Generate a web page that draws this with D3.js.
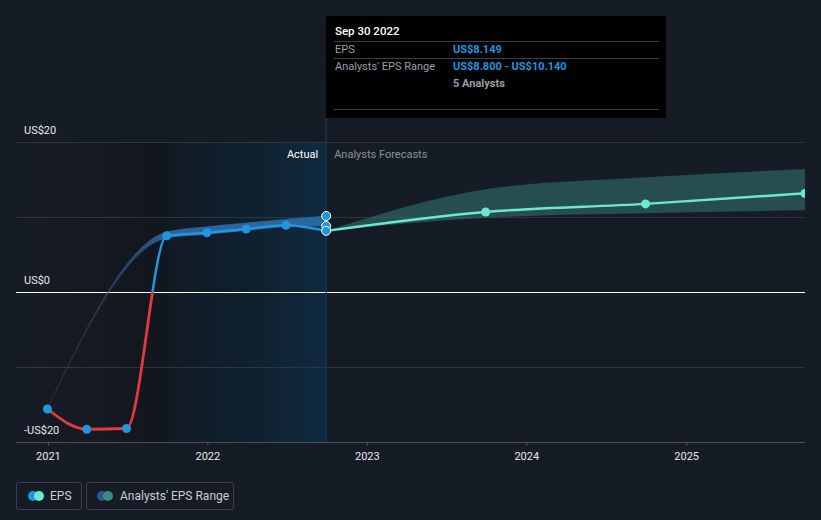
<!DOCTYPE html>
<html><head><meta charset="utf-8">
<script src="https://cdn.jsdelivr.net/npm/d3@7"></script>
<style>
html,body{margin:0;padding:0;background:#161c26;}
svg{display:block;font-family:Roboto,"Noto Sans",sans-serif;}
</style></head>
<body><svg id="c" width="821" height="520"></svg>
<script>
// ---- data ----
const actualDates = ["2020-12-31","2021-03-31","2021-06-30","2021-09-30","2021-12-31","2022-03-31","2022-06-30","2022-09-30"];
const actualEPS = [-15.6, -18.3, -18.2, 7.5, 7.9, 8.4, 8.9, 8.149];
const rangeDates = ["2020-12-31","2021-09-30","2021-12-31","2022-03-31","2022-06-30","2022-09-30"];
const rangeLow = [-15.6, 7.2, 7.7, 8.2, 8.7, 8.8];
const rangeHigh = [-15.4, 8.0, 8.7, 9.2, 9.7, 10.14];
const fcDates = ["2022-09-30","2023-09-30","2024-09-30","2025-09-30"];
const fcEPS = [8.149, 10.67, 11.75, 13.15];
const fcLow = [8.149, 9.9, 10.5, 10.9];
const fcHigh = [8.149, 13.7, 15.3, 16.4];
const yTicks = [20, 0, -20];
const yTickLabels = ["US$20", "US$0", "-US$20"];
const gridValues = [20, 10, -10];
const xTickYears = [2021, 2022, 2023, 2024, 2025];

const P = d3.timeParse("%Y-%m-%d");
const svg = d3.select("#c");
const x = d3.scaleTime().domain([new Date(2020, 9, 20), new Date(2025, 8, 30)]).range([16, 805]);
const y = d3.scaleLinear().domain([-20, 20]).range([442, 142]);

const defs = svg.append("defs");
function lg(id, stops) {
  const g = defs.append("linearGradient").attr("id", id).attr("x1", 0).attr("x2", 1).attr("y1", 0).attr("y2", 0);
  stops.forEach(s => g.append("stop").attr("offset", s[0]).attr("stop-color", s[1]).attr("stop-opacity", s[2] == null ? 1 : s[2]));
}
lg("gPast", [[0, "#161c26"], [1, "#12161e"]]);
lg("gAct", [[0, "#111a24"], [0.5, "#10202f"], [1, "#0f2a40"]]);
const xStart = x(P(actualDates[0])), xSep21 = x(P("2021-09-30")), xNow = x(P("2022-09-30"));
const bg = defs.append("linearGradient").attr("id", "gBand").attr("gradientUnits", "userSpaceOnUse")
  .attr("x1", xStart).attr("x2", xSep21).attr("y1", 0).attr("y2", 0);
bg.append("stop").attr("offset", 0).attr("stop-color", "#6a2a30").attr("stop-opacity", 0.3);
bg.append("stop").attr("offset", 0.45).attr("stop-color", "#3a4a70").attr("stop-opacity", 0.5);
bg.append("stop").attr("offset", 1).attr("stop-color", "#2a6aa3").attr("stop-opacity", 0.95);

defs.append("clipPath").attr("id", "plot").append("rect").attr("x", 16).attr("y", 100).attr("width", 789).attr("height", 350);
defs.append("clipPath").attr("id", "pos").append("rect").attr("x", 0).attr("y", 0).attr("width", 821).attr("height", y(0));
defs.append("clipPath").attr("id", "neg").append("rect").attr("x", 0).attr("y", y(0)).attr("width", 821).attr("height", 200);

// background regions
svg.append("rect").attr("x", 16).attr("y", y(20)).attr("width", xSep21 - 16).attr("height", y(-20) - y(20)).attr("fill", "url(#gPast)");
svg.append("rect").attr("x", xSep21).attr("y", y(20)).attr("width", xNow - xSep21).attr("height", y(-20) - y(20)).attr("fill", "url(#gAct)");

// grid
svg.selectAll(".grid").data(gridValues).enter().append("line")
  .attr("x1", 16).attr("x2", 805).attr("y1", d => Math.round(y(d)) + 0.5).attr("y2", d => Math.round(y(d)) + 0.5)
  .attr("stroke", "#2f343d").attr("stroke-width", 1);
svg.append("line").attr("x1", 16).attr("x2", 805).attr("y1", Math.round(y(0)) + 0.5).attr("y2", Math.round(y(0)) + 0.5).attr("stroke", "#ffffff").attr("stroke-width", 1);

// y labels
svg.selectAll(".yl").data(yTicks).enter().append("text")
  .attr("x", 24).attr("y", d => y(d) - 8).text((d, i) => yTickLabels[i])
  .attr("fill", "#e8e8e8").attr("font-size", 11);

// x axis
const xAxis = d3.axisBottom(x).tickValues(xTickYears.map(yr => new Date(yr, 0, 1)))
  .tickFormat(d3.timeFormat("%Y")).tickSize(4).tickPadding(6);
const ax = svg.append("g").attr("transform", `translate(0,${y(-20)})`).call(xAxis);
ax.select(".domain").attr("stroke", "#4a4f58").attr("d", "M16,0.5H805");
ax.selectAll(".tick line").attr("stroke", "#4a4f58");
ax.selectAll(".tick text").attr("fill", "#e8e8e8").attr("font-size", 11).attr("font-family", "Roboto,sans-serif");

const g = svg.append("g").attr("clip-path", "url(#plot)");

// forecast band
const fc = fcDates.map((d, i) => ({d: P(d), v: fcEPS[i], lo: fcLow[i], hi: fcHigh[i]}));
g.append("path").datum(fc)
  .attr("d", d3.area().curve(d3.curveMonotoneX).x(d => x(d.d)).y0(d => y(d.lo)).y1(d => y(d.hi)))
  .attr("fill", "#3a8a82").attr("fill-opacity", 0.45);

// actual band
const rb = rangeDates.map((d, i) => ({d: P(d), lo: rangeLow[i], hi: rangeHigh[i]}));
g.append("path").datum(rb)
  .attr("d", d3.area().curve(d3.curveMonotoneX).x(d => x(d.d)).y0(d => y(d.lo)).y1(d => y(d.hi)))
  .attr("fill", "url(#gBand)").attr("stroke", "url(#gBand)").attr("stroke-width", 0.6);

// actual line
const ac = actualDates.map((d, i) => ({d: P(d), v: actualEPS[i]}));
const line = d3.line().curve(d3.curveMonotoneX).x(d => x(d.d)).y(d => y(d.v));
g.append("path").datum(ac).attr("d", line).attr("fill", "none").attr("stroke", "#2394df").attr("stroke-width", 2.5).attr("clip-path", "url(#pos)");
g.append("path").datum(ac).attr("d", line).attr("fill", "none").attr("stroke", "#e5393e").attr("stroke-width", 2.8).attr("clip-path", "url(#neg)");

// forecast line
g.append("path").datum(fc).attr("d", line).attr("fill", "none").attr("stroke", "#6ee7d0").attr("stroke-width", 2.5);

// points
g.selectAll(".ap").data(ac.slice(0, -1)).enter().append("circle")
  .attr("cx", d => x(d.d)).attr("cy", d => y(d.v)).attr("r", 4.5).attr("fill", "#2394df");
g.selectAll(".fp").data(fc.slice(1)).enter().append("circle")
  .attr("cx", d => x(d.d)).attr("cy", d => y(d.v)).attr("r", 4.5).attr("fill", "#6ee7d0");

// vertical marker
svg.append("line").attr("x1", xNow).attr("x2", xNow).attr("y1", 118).attr("y2", y(-20))
  .attr("stroke", "#1a3a57").attr("stroke-width", 1.2);

// highlighted points
const last = ac[ac.length - 1];
[rangeHigh[rangeHigh.length - 1], rangeLow[rangeLow.length - 1], last.v].forEach(v => {
  svg.append("circle").attr("cx", xNow).attr("cy", y(v)).attr("r", 4.5)
    .attr("fill", "#2394df").attr("stroke", "#ffffff").attr("stroke-width", 1);
});

// Actual / Forecast labels
svg.append("text").attr("x", xNow - 8).attr("y", 158).attr("text-anchor", "end").attr("fill", "#ffffff").attr("font-size", 11).text("Actual");
svg.append("text").attr("x", xNow + 8).attr("y", 158).attr("fill", "#8b9098").attr("font-size", 11).text("Analysts Forecasts");

// tooltip
const tt = svg.append("g");
tt.append("rect").attr("x", 326).attr("y", 16).attr("width", 340).attr("height", 102).attr("fill", "#000000");
tt.append("text").attr("x", 335).attr("y", 35).attr("fill", "#ffffff").attr("font-size", 11.5).attr("font-weight", 500).text("Sep 30 2022");
[41, 58, 109].forEach(yy => tt.append("line").attr("x1", 334).attr("x2", 659).attr("y1", yy + 0.5).attr("y2", yy + 0.5).attr("stroke", "#3a3e45"));
tt.append("text").attr("x", 335).attr("y", 53).attr("fill", "#9a9ea5").attr("font-size", 11).text("EPS");
tt.append("text").attr("x", 453).attr("y", 53).attr("fill", "#2394df").attr("font-size", 11).attr("font-weight", 700).text("US$" + last.v.toFixed(3));
tt.append("text").attr("x", 335).attr("y", 70).attr("fill", "#9a9ea5").attr("font-size", 11).text("Analysts' EPS Range");
tt.append("text").attr("x", 453).attr("y", 70).attr("fill", "#2394df").attr("font-size", 11).attr("font-weight", 700)
  .text("US$" + rangeLow[rangeLow.length - 1].toFixed(3) + " - US$" + rangeHigh[rangeHigh.length - 1].toFixed(3));
tt.append("text").attr("x", 453).attr("y", 87).attr("fill", "#9a9ea5").attr("font-size", 11).attr("font-weight", 700).text("5 Analysts");

// legend
const lgG = svg.append("g");
lgG.append("rect").attr("x", 16.5).attr("y", 482.5).attr("width", 65).attr("height", 27).attr("rx", 2).attr("fill", "none").attr("stroke", "#3b404a");
lgG.append("circle").attr("cx", 33).attr("cy", 496).attr("r", 5).attr("fill", "#2394df");
lgG.append("circle").attr("cx", 39).attr("cy", 496).attr("r", 5).attr("fill", "#6ee7d0");
lgG.append("text").attr("x", 50).attr("y", 500).attr("fill", "#c9ccd1").attr("font-size", 12).text("EPS");
lgG.append("rect").attr("x", 86.5).attr("y", 482.5).attr("width", 147).attr("height", 27).attr("rx", 2).attr("fill", "none").attr("stroke", "#3b404a");
lgG.append("circle").attr("cx", 102).attr("cy", 496).attr("r", 5).attr("fill", "#245f8f");
lgG.append("circle").attr("cx", 108).attr("cy", 496).attr("r", 5).attr("fill", "#3d8a80");
lgG.append("text").attr("x", 120).attr("y", 500).attr("fill", "#c9ccd1").attr("font-size", 12).text("Analysts' EPS Range");
</script></body></html>
